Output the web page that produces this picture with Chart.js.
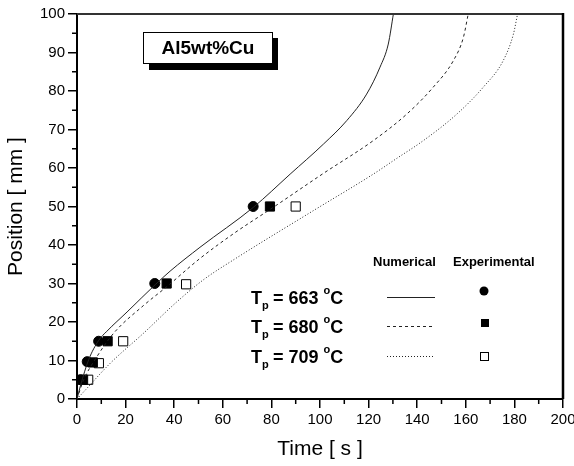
<!DOCTYPE html>
<html>
<head>
<meta charset="utf-8">
<script src="https://cdn.jsdelivr.net/npm/chart.js@4/dist/chart.umd.min.js"></script>
<style>
  html, body { margin: 0; padding: 0; background: #fff; }
  #wrap { width: 574px; height: 466px; position: relative; }
</style>
</head>
<body>
<div id="wrap"><canvas id="chart" width="574" height="466"></canvas></div>
<script>
// numerical curves (time s, position mm)
var num663_t = [0, 1.4, 4.8, 8.9, 12.3, 20.6, 32.2, 38.3, 50.6, 72.6, 87.7, 101.4, 111, 119.2, 124.7, 128.1, 130.2];
var num663_y = [0, 3.4, 10.2, 15.2, 17.6, 22.6, 29.7, 33.2, 39.4, 49.8, 58.4, 66.2, 72.3, 79.2, 86.2, 92.2, 100];
var num680_t = [0, 2.7, 8.2, 15.1, 27.4, 37, 50.6, 65, 80.8, 101.4, 121.9, 135.7, 146.6, 154.9, 159, 161];
var num680_y = [0, 4.9, 11, 17.1, 24.3, 29.2, 36.5, 43.2, 49.8, 58.6, 67.1, 74, 81, 87.9, 93.9, 100];
var num709_t = [0, 3.4, 13.7, 27.4, 41.2, 52.1, 64.3, 97.2, 121.9, 131.6, 142.5, 156.3, 167.2, 175.4, 179.6, 181.3];
var num709_y = [0, 2.3, 9.3, 17.1, 25.3, 31, 36.1, 48.9, 58.4, 62.5, 67.1, 74, 81, 87.9, 94.8, 100];

// experimental points
var exp663_t = [1.5, 4.2, 8.9, 32, 72.5];
var exp663_y = [5, 9.7, 15, 30, 50];
var exp680_t = [2.5, 6.5, 12.6, 36.9, 79.4];
var exp680_y = [5, 9.5, 15, 30, 50];
var exp709_t = [4.6, 9, 19, 44.9, 90];
var exp709_y = [5, 9.3, 15, 29.8, 50];

var xTicks = [0, 20, 40, 60, 80, 100, 120, 140, 160, 180, 200];
var yTicks = [0, 10, 20, 30, 40, 50, 60, 70, 80, 90, 100];
var legendLabels = ['663', '680', '709'];

function pts(xs, ys) {
  var out = [];
  for (var i = 0; i < xs.length; i++) out.push({x: xs[i], y: ys[i]});
  return out;
}

var FONT = '"Liberation Sans", Arial, sans-serif';

function curve(xs, ys, dash) {
  return {
    data: pts(xs, ys),
    showLine: true,
    borderColor: '#222',
    borderWidth: 1,
    borderDash: dash,
    pointRadius: 0,
    cubicInterpolationMode: 'monotone',
    fill: false
  };
}

function marks(xs, ys, style, fillCol, r) {
  return {
    data: pts(xs, ys),
    showLine: false,
    pointStyle: style,
    pointRadius: r,
    pointBackgroundColor: fillCol,
    pointBorderColor: '#000',
    pointBorderWidth: 1
  };
}

var extras = {
  id: 'extras',
  afterDraw: function(chart) {
    var ctx = chart.ctx;
    var a = chart.chartArea;
    var xs = chart.scales.x, ys = chart.scales.y;
    ctx.save();
    // frame top / right
    ctx.strokeStyle = '#333';
    ctx.lineWidth = 2;
    ctx.beginPath();
    ctx.moveTo(a.left, a.top);
    ctx.lineTo(a.right, a.top);
    ctx.stroke();
    ctx.strokeStyle = '#000';
    ctx.lineWidth = 2.5;
    ctx.beginPath();
    ctx.moveTo(a.right, a.top - 1);
    ctx.lineTo(a.right, a.bottom);
    ctx.stroke();

    // minor ticks
    ctx.lineWidth = 1.5;
    ctx.strokeStyle = '#000';
    ctx.beginPath();
    for (var v = 5; v < 100; v += 10) {
      var py = ys.getPixelForValue(v);
      ctx.moveTo(a.left - 5, py);
      ctx.lineTo(a.left, py);
    }
    for (var t = 10; t < 200; t += 20) {
      var px = xs.getPixelForValue(t);
      ctx.moveTo(px, a.bottom);
      ctx.lineTo(px, a.bottom + 5);
    }
    ctx.stroke();

    // title box with shadow
    ctx.fillStyle = '#000';
    ctx.fillRect(149, 38, 129, 32);
    ctx.fillStyle = '#fff';
    ctx.fillRect(143, 32, 130, 32);
    ctx.strokeStyle = '#000';
    ctx.lineWidth = 1;
    ctx.strokeRect(143.5, 32.5, 129, 31);
    ctx.fillStyle = '#000';
    ctx.font = 'bold 19px ' + FONT;
    ctx.textAlign = 'center';
    ctx.textBaseline = 'middle';
    ctx.fillText('Al5wt%Cu', 208, 49);

    // legend header
    ctx.font = 'bold 13px ' + FONT;
    ctx.textAlign = 'left';
    ctx.fillText('Numerical', 373, 262);
    ctx.fillText('Experimental', 453, 262);

    var rows = [297, 326, 356];
    var dashes = [[], [3, 3], [1, 2]];
    for (var i = 0; i < 3; i++) {
      var yy = rows[i];
      ctx.fillStyle = '#000';
      ctx.textAlign = 'left';
      ctx.textBaseline = 'alphabetic';
      ctx.font = 'bold 18px ' + FONT;
      ctx.fillText('T', 251, yy + 7);
      var tw = ctx.measureText('T').width;
      ctx.font = 'bold 11px ' + FONT;
      ctx.fillText('p', 251 + tw, yy + 12);
      ctx.font = 'bold 18px ' + FONT;
      var s1 = ' = ' + legendLabels[i] + ' ';
      var x0 = 251 + tw + 6;
      ctx.fillText(s1, x0, yy + 7);
      var x1 = x0 + ctx.measureText(s1).width;
      ctx.font = 'bold 11px ' + FONT;
      ctx.fillText('o', x1, yy - 3);
      var ow = ctx.measureText('o').width;
      ctx.font = 'bold 18px ' + FONT;
      ctx.fillText('C', x1 + ow, yy + 7);

      ctx.strokeStyle = '#222';
      ctx.lineWidth = 1;
      ctx.setLineDash(dashes[i]);
      ctx.beginPath();
      ctx.moveTo(387, yy + 0.5);
      ctx.lineTo(435, yy + 0.5);
      ctx.stroke();
      ctx.setLineDash([]);
    }
    // legend markers
    ctx.fillStyle = '#000';
    ctx.beginPath();
    ctx.arc(484, 291, 4.5, 0, Math.PI * 2);
    ctx.fill();
    ctx.fillRect(481, 319, 8, 8);
    ctx.fillStyle = '#fff';
    ctx.strokeStyle = '#000';
    ctx.fillRect(480, 352, 8, 8);
    ctx.strokeRect(480.5, 352.5, 8, 8);
    ctx.restore();
  }
};

var ctx = document.getElementById('chart').getContext('2d');
new Chart(ctx, {
  type: 'scatter',
  data: {
    datasets: [
      curve(num663_t, num663_y, []),
      curve(num680_t, num680_y, [3, 3]),
      curve(num709_t, num709_y, [1, 2]),
      marks(exp663_t, exp663_y, 'circle', '#000', 5),
      marks(exp680_t, exp680_y, 'rect', '#000', 6.5),
      marks(exp709_t, exp709_y, 'rect', '#fff', 6.5)
    ]
  },
  options: {
    responsive: false,
    animation: false,
    layout: { padding: { top: 14, right: 11, left: 0, bottom: 0 } },
    plugins: {
      legend: { display: false },
      tooltip: { enabled: false }
    },
    scales: {
      x: {
        type: 'linear',
        min: 0, max: 200,
        afterBuildTicks: function(s) { s.ticks = xTicks.map(function(v) { return {value: v}; }); },
        afterFit: function(s) { s.height = 67; s.paddingLeft = 0; s.paddingRight = 0; },
        ticks: { color: '#000', font: { family: FONT, size: 15 }, padding: 3, maxRotation: 0 },
        grid: { drawOnChartArea: false, color: '#000', tickLength: 9, lineWidth: 1.5 },
        border: { color: '#000', width: 2 },
        title: { display: true, text: 'Time [ s ]', color: '#000', font: { family: FONT, size: 21 }, padding: { top: 2 } }
      },
      y: {
        type: 'linear',
        min: 0, max: 100,
        afterBuildTicks: function(s) { s.ticks = yTicks.map(function(v) { return {value: v}; }); },
        afterFit: function(s) { s.width = 77; s.paddingTop = 0; s.paddingBottom = 0; },
        ticks: { color: '#000', font: { family: FONT, size: 15 }, padding: 3 },
        grid: { drawOnChartArea: false, color: '#000', tickLength: 9, lineWidth: 1.5 },
        border: { color: '#000', width: 2 },
        title: { display: true, text: 'Position [ mm ]', color: '#000', font: { family: FONT, size: 21 }, padding: { bottom: 4 } }
      }
    }
  },
  plugins: [extras]
});
</script>
</body>
</html>
